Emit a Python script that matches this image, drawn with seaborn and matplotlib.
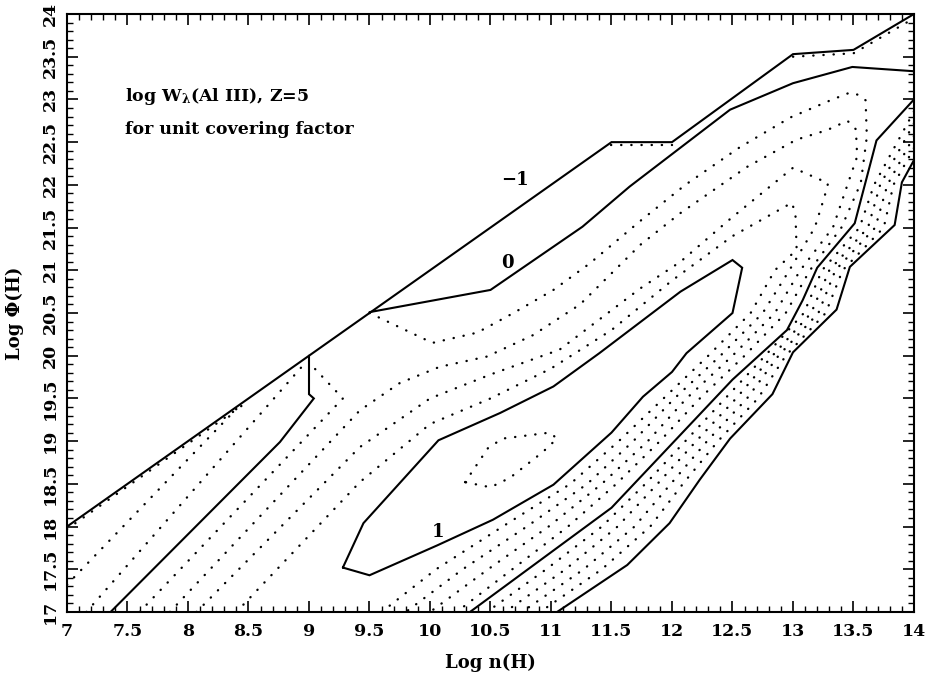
import matplotlib
matplotlib.use("Agg")
import matplotlib.pyplot as plt
import pandas as pd
import seaborn as sns
from matplotlib.ticker import MultipleLocator

# ---- contour lines of log W(Al III) in the (log n, log Phi) plane ----
# upper grid edge, level -1
edge_n = [7.0, 9.0, 9.5, 11.5, 12.0, 13.0, 13.5, 14.0]
edge_phi = [18.0, 20.0, 20.5, 22.5, 22.5, 23.53, 23.58, 24.0]

# level 0 (solid), three pieces
zero_top_n = [9.5, 10.5, 11.26, 11.65, 12.48, 13.0, 13.49, 14.0]
zero_top_phi = [20.51, 20.77, 21.51, 21.98, 22.88, 23.19, 23.38, 23.33]
zero_left_n = [9.0, 9.0, 9.04, 8.76, 7.36]
zero_left_phi = [20.0, 19.55, 19.5, 18.99, 17.0]
zero_right_n = [14.0, 13.69, 13.51, 13.2, 13.08, 12.95, 12.5, 12.0, 11.5, 10.33]
zero_right_phi = [23.0, 22.52, 21.55, 21.03, 20.65, 20.3, 19.72, 18.97, 18.22, 17.0]

# level -1 on the high-density side (solid)
m1_right_n = [14.0, 13.9, 13.84, 13.47, 13.36, 13.0, 12.83, 12.48, 12.23, 11.98, 11.63, 11.05]
m1_right_phi = [22.29, 22.03, 21.53, 21.04, 20.54, 20.04, 19.55, 19.03, 18.55, 18.04, 17.55, 17.0]

# level 1 (solid, closed)
one_n = [9.28, 9.5, 10.06, 10.52, 11.02, 11.5, 11.76, 12.0, 12.12, 12.5, 12.58,
         12.5, 12.07, 11.4, 11.02, 10.58, 10.07, 9.45, 9.28]
one_phi = [17.52, 17.43, 17.78, 18.08, 18.49, 19.1, 19.52, 19.81, 20.03, 20.5, 21.03,
           21.12, 20.75, 20.03, 19.64, 19.33, 19.01, 18.04, 17.52]

# level 1.2 (dotted, closed)
peak_n = [10.29, 10.48, 10.6, 10.99, 11.05, 10.93, 10.66, 10.5, 10.29]
peak_phi = [18.52, 18.92, 19.03, 19.1, 19.03, 18.87, 18.57, 18.46, 18.52]

# intermediate levels 0.8, 0.6, 0.4, 0.2 (dotted)
lev08_n = [8.4, 9.42, 10.0, 10.5, 11.0, 11.5, 12.0, 12.5, 12.99, 13.02, 13.03, 12.85,
           12.65, 12.3, 11.93, 11.56, 11.16, 10.6, 10.05, 9.6]
lev08_phi = [17.0, 18.52, 19.2, 19.5, 19.85, 20.3, 20.88, 21.4, 21.79, 21.67, 21.24, 21.0,
             20.5, 20.0, 19.5, 19.0, 18.5, 18.0, 17.5, 17.0]
lev06_n = [8.07, 9.42, 10.0, 10.5, 11.07, 11.74, 12.07, 12.48, 13.0, 13.29, 13.26, 13.18,
           12.97, 12.75, 12.4, 12.02, 11.68, 11.3, 10.8, 10.27, 9.8]
lev06_phi = [17.0, 18.93, 19.5, 19.78, 20.07, 20.79, 21.1, 21.6, 22.2, 22.02, 21.86, 21.5,
             21.0, 20.5, 20.0, 19.5, 19.0, 18.5, 18.0, 17.5, 17.0]
lev04_n = [7.85, 9.42, 9.75, 10.08, 10.47, 10.85, 11.24, 11.74, 12.07, 12.62, 13.03, 13.28,
           13.45, 13.52, 13.53, 13.45, 13.33, 13.06, 12.85, 12.5, 12.12, 11.8, 11.42, 10.98,
           10.48, 10.0]
lev04_phi = [17.0, 19.36, 19.68, 19.87, 19.99, 20.24, 20.6, 21.3, 21.67, 22.21, 22.53, 22.64,
             22.75, 22.65, 22.33, 22.0, 21.5, 21.0, 20.5, 20.0, 19.5, 19.0, 18.5, 18.0,
             17.5, 17.0]
lev02_n = [9.5, 10.02, 10.39, 10.69, 11.02, 11.32, 11.74, 12.11, 12.56, 12.98, 13.31, 13.47,
           13.55, 13.6, 13.61, 13.56, 13.4, 13.14, 12.94, 12.6, 12.23, 11.9, 11.54, 11.14,
           10.68, 10.22]
lev02_phi = [20.5, 20.15, 20.27, 20.5, 20.77, 21.08, 21.58, 22.0, 22.44, 22.79, 22.99, 23.08,
             23.05, 22.99, 22.56, 22.02, 21.5, 21.0, 20.5, 20.0, 19.5, 19.0, 18.5, 18.0,
             17.5, 17.0]
lev02_left_n = [7.6, 9.28, 9.0]
lev02_left_phi = [17.0, 19.5, 19.92]

# negative levels on the low-density side (dotted)
neg_a_n = [7.0, 8.45]
neg_a_phi = [17.32, 19.45]
neg_b_n = [7.16, 8.94]
neg_b_phi = [17.0, 19.87]

# negative levels on the high-density side (dotted)
neg_r1_n = [14.0, 13.67, 13.55, 13.24, 13.09, 12.77, 12.44, 12.11, 11.78, 11.42, 10.96, 10.47]
neg_r1_phi = [22.86, 22.0, 21.5, 21.0, 20.5, 20.0, 19.5, 19.0, 18.5, 18.0, 17.5, 17.0]
neg_r2_n = [14.0, 13.72, 13.62, 13.30, 13.15, 12.83, 12.53, 12.20, 11.88, 11.55, 11.12, 10.62]
neg_r2_phi = [22.72, 22.0, 21.5, 21.0, 20.5, 20.0, 19.5, 19.0, 18.5, 18.0, 17.5, 17.0]
neg_r3_n = [14.0, 13.78, 13.68, 13.35, 13.21, 12.88, 12.62, 12.29, 11.99, 11.69, 11.27, 10.76]
neg_r3_phi = [22.57, 22.0, 21.5, 21.0, 20.5, 20.0, 19.5, 19.0, 18.5, 18.0, 17.5, 17.0]
neg_r4_n = [14.0, 13.83, 13.75, 13.41, 13.27, 12.94, 12.71, 12.38, 12.09, 11.82, 11.42, 10.91]
neg_r4_phi = [22.43, 22.0, 21.5, 21.0, 20.5, 20.0, 19.5, 19.0, 18.5, 18.0, 17.5, 17.0]

# negative levels running along the grid edge (dotted)
edge_dot1_n = [7.0, 8.45]
edge_dot1_phi = [17.97, 19.42]
edge_dot2_n = [11.5, 12.0]
edge_dot2_phi = [22.47, 22.47]
edge_dot3_n = [13.0, 13.5, 14.0]
edge_dot3_phi = [23.5, 23.54, 23.95]

# contour labels
label_text = ["\u22121", "0", "1"]
label_n = [10.70, 10.64, 10.07]
label_phi = [22.06, 21.08, 17.94]

x_ticks = [7, 7.5, 8, 8.5, 9, 9.5, 10, 10.5, 11, 11.5, 12, 12.5, 13, 13.5, 14]
x_ticklabels = ["7", "7.5", "8", "8.5", "9", "9.5", "10", "10.5", "11", "11.5",
                "12", "12.5", "13", "13.5", "14"]
y_ticks = [17, 17.5, 18, 18.5, 19, 19.5, 20, 20.5, 21, 21.5, 22, 22.5, 23, 23.5, 24]
y_ticklabels = ["17", "17.5", "18", "18.5", "19", "19.5", "20", "20.5", "21", "21.5",
                "22", "22.5", "23", "23.5", "24"]

solid_lines = [
    (edge_n, edge_phi), (zero_top_n, zero_top_phi), (zero_left_n, zero_left_phi),
    (zero_right_n, zero_right_phi), (m1_right_n, m1_right_phi), (one_n, one_phi),
]
dotted_lines = [
    (peak_n, peak_phi), (lev08_n, lev08_phi), (lev06_n, lev06_phi),
    (lev04_n, lev04_phi), (lev02_n, lev02_phi), (lev02_left_n, lev02_left_phi),
    (neg_a_n, neg_a_phi), (neg_b_n, neg_b_phi),
    (neg_r1_n, neg_r1_phi), (neg_r2_n, neg_r2_phi), (neg_r3_n, neg_r3_phi),
    (neg_r4_n, neg_r4_phi),
    (edge_dot1_n, edge_dot1_phi), (edge_dot2_n, edge_dot2_phi), (edge_dot3_n, edge_dot3_phi),
]

sns.set_theme(style="ticks")
plt.rcParams["font.family"] = ["DejaVu Serif"]
plt.rcParams["font.weight"] = "bold"
plt.rcParams["mathtext.fontset"] = "dejavuserif"
plt.rcParams["mathtext.default"] = "bf"
for key in ["text.color", "axes.labelcolor", "xtick.color", "ytick.color", "axes.edgecolor"]:
    plt.rcParams[key] = "black"

fig = plt.figure(figsize=(9.28, 6.82), dpi=100)
ax = fig.add_axes([67 / 928, 1 - 612 / 682, (914 - 67) / 928, (612 - 14) / 682])


def draw(n, phi, **style):
    df = pd.DataFrame({"logn": n, "logphi": phi})
    sns.lineplot(data=df, x="logn", y="logphi", sort=False, estimator=None,
                 color="black", ax=ax, legend=False, **style)


for n, phi in solid_lines:
    draw(n, phi, linewidth=1.5, solid_joinstyle="miter")
for n, phi in dotted_lines:
    draw(n, phi, linewidth=1.7, linestyle=(0, (0.1, 4.2)), dash_capstyle="round")

for txt, xn, yp in zip(label_text, label_n, label_phi):
    ax.text(xn, yp, txt, ha="center", va="center", fontsize=13, fontweight="bold")

ax.text(7.48, 23.03, r"log W$_{\lambda}$(Al III), Z=5", ha="left", va="center",
        fontsize=12.5, fontweight="bold")
ax.text(7.48, 22.65, "for unit covering factor", ha="left", va="center",
        fontsize=12.5, fontweight="bold")

ax.set_xlim(7, 14)
ax.set_ylim(17, 24)
ax.set_xticks(x_ticks)
ax.set_xticklabels(x_ticklabels)
ax.set_yticks(y_ticks)
ax.set_yticklabels(y_ticklabels, rotation=90, va="center")
ax.xaxis.set_minor_locator(MultipleLocator(0.1))
ax.yaxis.set_minor_locator(MultipleLocator(0.1))
ax.tick_params(which="both", direction="in", top=True, right=True, colors="black",
               labelsize=12.5)
ax.tick_params(which="major", length=8, width=1.2)
ax.tick_params(which="minor", length=4, width=1.0)
ax.tick_params(axis="x", which="major", pad=8)
ax.tick_params(axis="y", which="major", pad=6)
for spine in ax.spines.values():
    spine.set_visible(True)
    spine.set_linewidth(1.5)
    spine.set_color("black")

ax.set_xlabel("Log n(H)", fontsize=13, fontweight="bold", labelpad=10)
ax.set_ylabel("Log \u03a6(H)", fontsize=13, fontweight="bold", labelpad=13)

fig.savefig("out.png", dpi=100)
